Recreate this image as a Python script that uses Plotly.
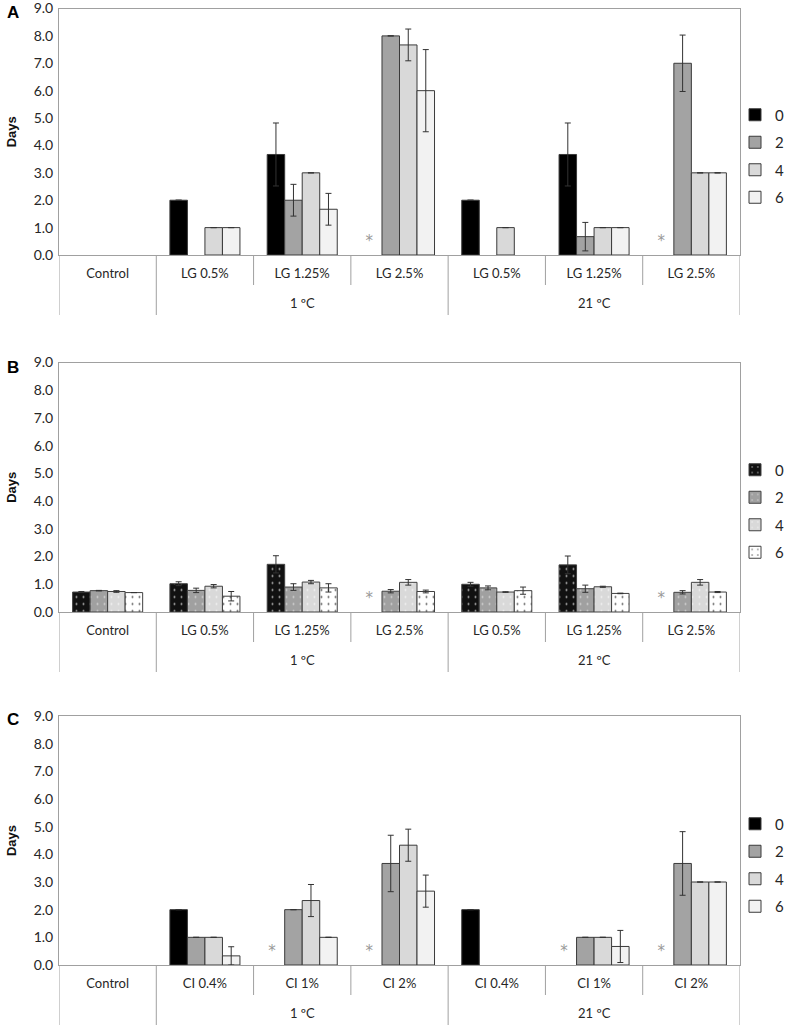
import plotly.graph_objects as go

W, H = 787, 1025

# ---------------- data ----------------
categories_A = ["Control", "LG 0.5%", "LG 1.25%", "LG 2.5%", "LG 0.5%", "LG 1.25%", "LG 2.5%"]
categories_B = ["Control", "LG 0.5%", "LG 1.25%", "LG 2.5%", "LG 0.5%", "LG 1.25%", "LG 2.5%"]
categories_C = ["Control", "CI 0.4%", "CI 1%", "CI 2%", "CI 0.4%", "CI 1%", "CI 2%"]
group_labels = ["1 ºC", "21 ºC"]
group_members = [[1, 2, 3], [4, 5, 6]]
series_names = ["0", "2", "4", "6"]

# Panel A
A_0 = [None, 2.0, 3.67, None, 2.0, 3.67, None]
A_0_err = [0, 0, 1.15, 0, 0, 1.15, 0]
A_2 = [None, None, 2.0, 8.0, None, 0.67, 7.0]
A_2_err = [0, 0, 0.58, 0, 0, 0.52, 1.03]
A_4 = [None, 1.0, 3.0, 7.67, 1.0, 1.0, 3.0]
A_4_err = [0, 0, 0, 0.58, 0, 0, 0]
A_6 = [None, 1.0, 1.67, 6.0, None, 1.0, 3.0]
A_6_err = [0, 0, 0.58, 1.5, 0, 0, 0]
A_asterisk = [3, 6]

# Panel B
B_0 = [0.72, 1.02, 1.72, None, 1.0, 1.70, None]
B_0_err = [0.02, 0.07, 0.31, 0, 0.07, 0.32, 0]
B_2 = [0.77, 0.78, 0.90, 0.75, 0.87, 0.84, 0.71]
B_2_err = [0.01, 0.08, 0.12, 0.06, 0.07, 0.13, 0.06]
B_4 = [0.74, 0.93, 1.08, 1.07, 0.72, 0.91, 1.07]
B_4_err = [0.03, 0.06, 0.06, 0.10, 0.01, 0.02, 0.10]
B_6 = [0.70, 0.57, 0.87, 0.74, 0.77, 0.67, 0.72]
B_6_err = [0, 0.17, 0.15, 0.05, 0.13, 0.01, 0.02]
B_asterisk = [3, 6]

# Panel C
C_0 = [None, 2.0, None, None, 2.0, None, None]
C_0_err = [0, 0, 0, 0, 0, 0, 0]
C_2 = [None, 1.0, 2.0, 3.67, None, 1.0, 3.67]
C_2_err = [0, 0, 0, 1.02, 0, 0, 1.15]
C_4 = [None, 1.0, 2.33, 4.33, None, 1.0, 3.0]
C_4_err = [0, 0, 0.58, 0.58, 0, 0, 0]
C_6 = [None, 0.33, 1.0, 2.67, None, 0.67, 3.0]
C_6_err = [0, 0.33, 0, 0.58, 0, 0.58, 0]
C_asterisk = [2, 3, 5, 6]

# ---------------- style ----------------
FONT = "Lato"
AXIS_GRAY = "#A0A0A0"
TEXT = "#262626"
solid_colors = ["#000000", "#A3A3A3", "#D9D9D9", "#F2F2F2"]
dot_bg = ["#111111", "#A0A0A0", "#D9D9D9", "#FFFFFF"]
dot_fg = ["#BBBBBB", "#D4D4D4", "#F2F2F2", "#555555"]
BARGAP = 0.28

# geometry in page pixels
panels = [
    dict(top=8.5, bottom=255, cats=categories_A, series=[A_0, A_2, A_4, A_6],
         errs=[A_0_err, A_2_err, A_4_err, A_6_err], ast=A_asterisk, letter="A",
         letter_y=12, pattern=False, legend_y=156),
    dict(top=362.5, bottom=612, cats=categories_B, series=[B_0, B_2, B_4, B_6],
         errs=[B_0_err, B_2_err, B_4_err, B_6_err], ast=B_asterisk, letter="B",
         letter_y=367, pattern=True, legend_y=511),
    dict(top=716, bottom=965, cats=categories_C, series=[C_0, C_2, C_4, C_6],
         errs=[C_0_err, C_2_err, C_4_err, C_6_err], ast=C_asterisk, letter="C",
         letter_y=719, pattern=False, legend_y=865),
]

X0, X1 = 59, 740


def px(p):
    return min(1.0, max(0.0, p / W))


def py(p):
    return min(1.0, max(0.0, 1 - p / H))


fig = go.Figure()
layout = dict(
    width=W, height=H, margin=dict(l=0, r=0, t=0, b=0, pad=0, autoexpand=False),
    paper_bgcolor="white", plot_bgcolor="white",
    barmode="group", bargap=BARGAP, bargroupgap=0,
    showlegend=True,
)
shapes = []
annotations = []

for pi, P in enumerate(panels):
    sfx = "" if pi == 0 else str(pi + 1)
    xa, ya = "x" + sfx, "y" + sfx
    leg = "legend" + sfx
    xs = list(range(len(P["cats"])))
    for si, name in enumerate(series_names):
        if P["pattern"]:
            marker = dict(color=dot_bg[si], line=dict(color="#404040", width=1),
                          pattern=dict(shape=".", bgcolor=dot_bg[si], fgcolor=dot_fg[si],
                                       size=7, solidity=0.06, fillmode="replace"))
        else:
            marker = dict(color=solid_colors[si], line=dict(color="#3A3A3A", width=1))
        fig.add_trace(go.Bar(
            x=xs, y=P["series"][si], name=name, marker=marker,
            error_y=dict(type="data", array=P["errs"][si], visible=True,
                         color="#333333", thickness=1, width=3),
            xaxis=xa, yaxis=ya, legend=leg, legendgroup=f"p{pi}s{si}",
        ))
    slot = (1 - BARGAP) / 4
    fig.add_trace(go.Scatter(
        x=[i - (1 - BARGAP) / 2 + slot / 2 - 0.04 for i in P["ast"]],
        y=[0.45 for _ in P["ast"]], mode="text", text=["*" for _ in P["ast"]],
        textfont=dict(family="DejaVu Sans", size=15, color="#999999"),
        showlegend=False, hoverinfo="skip", xaxis=xa, yaxis=ya,
    ))

    layout["xaxis" + sfx] = dict(
        domain=[px(X0), px(X1)], range=[-0.5, len(P["cats"]) - 0.5], anchor=ya,
        tickmode="array", tickvals=xs, ticktext=P["cats"], ticks="",
        tickfont=dict(family=FONT, size=13, color=TEXT), ticklabelstandoff=6,
        showline=True, linecolor=AXIS_GRAY, linewidth=1, mirror=True,
        showgrid=False, zeroline=False, fixedrange=True, automargin=False,
    )
    layout["yaxis" + sfx] = dict(
        domain=[py(P["bottom"]), py(P["top"])], range=[0, 9], anchor=xa, dtick=1, tick0=0,
        tickformat=".1f", ticks="", tickfont=dict(family=FONT, size=14, color=TEXT),
        ticklabelstandoff=2, ticklabeloverflow="allow",
        showline=True, linecolor=AXIS_GRAY, linewidth=1, mirror=True,
        showgrid=False, zeroline=False, fixedrange=True, automargin=False,
        title=dict(text="<b>Days</b>", font=dict(family="Liberation Sans", size=13, color="#111111"),
                   standoff=14),
    )
    layout[leg] = dict(
        x=px(735), y=py(P["legend_y"]), xanchor="left", yanchor="middle",
        font=dict(family=FONT, size=15, color=TEXT), bgcolor="rgba(0,0,0,0)",
        itemwidth=30, tracegroupgap=5, traceorder="grouped",
    )

    zero = P["bottom"]
    for xb in [-0.5, 0.5, 3.5, 6.5]:
        shapes.append(dict(type="line", xref=xa, yref="paper", x0=xb, x1=xb,
                           y0=py(zero), y1=py(zero + 60),
                           line=dict(color=AXIS_GRAY, width=1)))
    for xb in [1.5, 2.5, 4.5, 5.5]:
        shapes.append(dict(type="line", xref=xa, yref="paper", x0=xb, x1=xb,
                           y0=py(zero), y1=py(zero + 30),
                           line=dict(color=AXIS_GRAY, width=1)))
    for gl, members in zip(group_labels, group_members):
        annotations.append(dict(
            text=gl, xref=xa, yref="paper", x=sum(members) / len(members), y=py(zero + 48),
            showarrow=False, xanchor="center", yanchor="middle",
            font=dict(family=FONT, size=13, color=TEXT)))
    annotations.append(dict(
        text=f"<b>{P['letter']}</b>", xref="paper", yref="paper", x=px(13), y=py(P["letter_y"]),
        showarrow=False, xanchor="center", yanchor="middle",
        font=dict(family="Liberation Sans", size=17, color="#000000")))

layout["shapes"] = shapes
layout["annotations"] = annotations
fig.update_layout(**layout)
fig.write_html(
    "out.html", config={"displayModeBar": False},
    post_script="document.body.style.margin='0';document.body.style.overflow='hidden';",
)
